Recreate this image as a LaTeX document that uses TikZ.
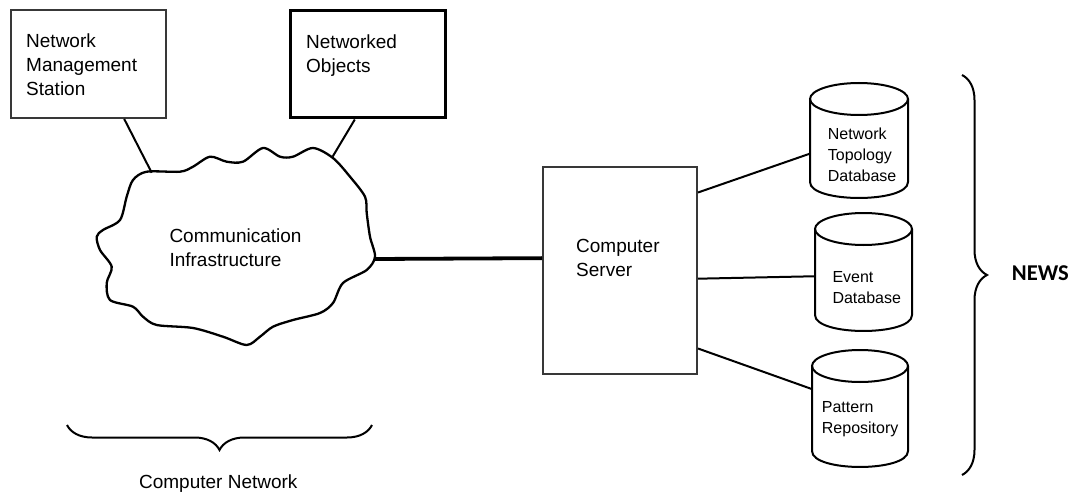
\documentclass[tikz,border=0pt]{standalone}
\usepackage{fontspec}
\setmainfont{Liberation Sans}
\newfontfamily\newsfont{Carlito}
\usetikzlibrary{decorations.pathreplacing}
\tikzset{
  boxshape/.style={draw, rectangle, inner sep=0pt},
  lbl/.style={anchor=north west, inner sep=0pt, align=left, text=black,
    font=\fontsize{19}{24}\selectfont},
  dblbl/.style={anchor=north west, inner sep=0pt, align=left, text=black,
    font=\fontsize{16}{21}\selectfont},
  dbnode/.style={rectangle, inner sep=0pt, draw=none},
  conn/.style={line width=2pt, black},
  dbline/.style={line width=2pt, black},
  bracel/.style={line width=2pt, black, decorate, decoration={brace, amplitude=25pt}},
}
\begin{document}
\begin{tikzpicture}[x=1pt,y=-1pt]
\useasboundingbox (0,0) rectangle (1074,492);
\fill[white] (0,0) rectangle (1074,492);

% boxes
\node[boxshape, draw=black!78, line width=2pt, minimum width=155pt, minimum height=108pt] (nms) at (88.5,64) {};
\node[lbl] (nmst) at (26,33.3) {Network\\Management\\Station};
\node[boxshape, draw=black, line width=3pt, minimum width=155pt, minimum height=107pt] (no) at (367.5,64.5) {};
\node[lbl] (not) at (306,35) {Networked\\Objects};
\node[boxshape, draw=black!78, line width=2pt, minimum width=154pt, minimum height=207pt] (srv) at (620,270.5) {};
\node[lbl, font=\fontsize{19}{23.5}\selectfont] (srvt) at (576,239.3) {Computer\\Server};

% cloud
\draw[line width=2.3pt, line join=round] plot[smooth cycle, tension=0.5] coordinates {
(146.7,171.7) (180,171.7) (193,166.7) (210,156.7) (226.7,161.7) (243,161.7)
(263,148) (280,156.7) (293,156.7) (313,148) (333,158) (350,176.7) (365,196.7)
(366.7,213) (370,236.7) (375,256.7) (366.7,270) (343,283) (333,303) (320,313)
(293,320) (273,326.7) (260,336.7) (246.7,345) (223,336.7) (193,328) (156.7,325)
(143,316.7) (133,306.7) (110,300) (106.7,283) (111.7,266.7) (100,250) (96.7,236.7)
(103,230) (120,220) (126.7,196.7) (133,180)};
\coordinate (cnms) at (151.7,172.7);
\coordinate (cno) at (332.7,156.5);
\coordinate (csrv) at (375,259);
\node[lbl] (comm) at (169.3,228.3) {Communication\\Infrastructure};

% cylinders
\node[dbnode, minimum width=98pt, minimum height=115pt] (topo) at (859,140.5) {};
\draw[dbline] (859,99) ellipse[x radius=49, y radius=16];
\draw[dbline] (810,99) -- (810,182) .. controls (810,203.3) and (908,203.3) .. (908,182) -- (908,99);
\node[dblbl] (topot) at (827.7,127.7) {Network\\Topology\\Database};

\node[dbnode, minimum width=97pt, minimum height=118pt] (evt) at (863.5,272) {};
\draw[dbline] (863.5,229) ellipse[x radius=48.5, y radius=16];
\draw[dbline] (815,229) -- (815,315) .. controls (815,336.3) and (912,336.3) .. (912,315) -- (912,229);
\node[dblbl] (evtt) at (832.3,271.7) {Event\\Database};

\node[dbnode, minimum width=96pt, minimum height=117pt] (pat) at (860,408.5) {};
\draw[dbline] (860,366) ellipse[x radius=48, y radius=16];
\draw[dbline] (812,366) -- (812,451) .. controls (812,472.3) and (908,472.3) .. (908,451) -- (908,366);
\node[dblbl] (patt) at (821.7,401) {Pattern\\Repository};

% connectors
\draw[conn] (nms.-57.4) -- (cnms);
\draw[conn] (no.-103.2) -- (cno);
\draw[line width=3.8pt] (csrv) -- (srv.171.5);
\draw[conn] (srv.45) -- (topo.195.4);
\draw[conn] (srv.-6.3) -- (evt.185.9);
\draw[conn] (srv.-45.9) -- (pat.158.9);

% braces
\coordinate (newsTop) at (962,75);
\coordinate (newsBot) at (962,475);
\draw[bracel] (newsTop) -- (newsBot);
\node[anchor=base west, inner sep=0pt, font=\newsfont\bfseries\fontsize{22.6}{27}\selectfont] (news) at (1011.7,280) {NEWS};

\coordinate (cnR) at (372,425);
\coordinate (cnL) at (67,425);
\draw[bracel] (cnR) -- (cnL);
\node[anchor=base, inner sep=0pt, font=\fontsize{19}{24}\selectfont] (cnet) at (218.3,488.5) {Computer Network};
\end{tikzpicture}
\end{document}
